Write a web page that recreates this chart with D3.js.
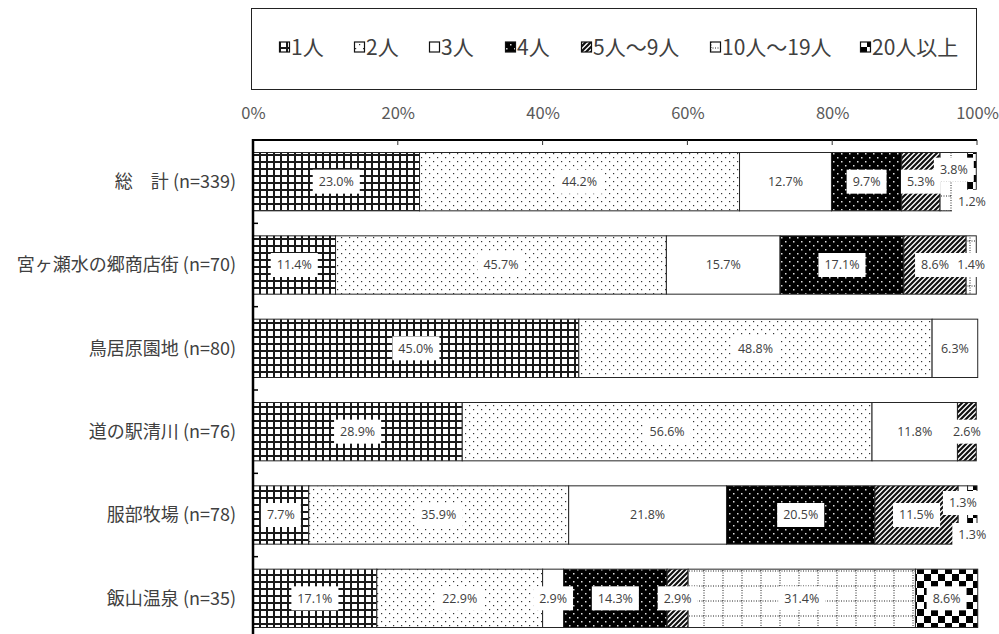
<!DOCTYPE html>
<html><head><meta charset="utf-8">
<script src="https://cdn.jsdelivr.net/npm/d3@7"></script>
<style>body{margin:0;background:#fff}svg{display:block}</style>
</head><body>
<svg id="chart" width="999" height="634"></svg>
<script>
const categories = ["総　計 (n=339)", "宮ヶ瀬水の郷商店街 (n=70)", "鳥居原園地 (n=80)", "道の駅清川 (n=76)", "服部牧場 (n=78)", "飯山温泉 (n=35)"];
const seriesNames = ["1人", "2人", "3人", "4人", "5人～9人", "10人～19人", "20人以上"];
const v1 = [23.0, 11.4, 45.0, 28.9, 7.7, 17.1];
const v2 = [44.2, 45.7, 48.8, 56.6, 35.9, 22.9];
const v3 = [12.7, 15.7, 6.3, 11.8, 21.8, 2.9];
const v4 = [9.7, 17.1, 0, 0, 20.5, 14.3];
const v5 = [5.3, 8.6, 0, 2.6, 11.5, 2.9];
const v6 = [3.8, 1.4, 0, 0, 1.3, 31.4];
const v7 = [1.2, 0, 0, 0, 1.3, 8.6];
const xTicks = [0, 20, 40, 60, 80, 100];

const seriesValues = [v1, v2, v3, v4, v5, v6, v7];
const rows = categories.map((c, i) => {
  const r = {cat: c};
  seriesNames.forEach((s, j) => r[s] = seriesValues[j][i]);
  return r;
});

const svg = d3.select("#chart");
const defs = svg.append("defs");
const font = "'Noto Sans CJK JP','Noto Sans',sans-serif";

// patterns
function pat(id, w, h, draw) {
  const p = defs.append("pattern").attr("id", id).attr("patternUnits", "userSpaceOnUse")
    .attr("width", w).attr("height", h);
  draw(p);
}
pat("p0", 7, 7, p => {
  p.append("rect").attr("width", 7).attr("height", 7).attr("fill", "#fff");
  p.append("rect").attr("x", 0).attr("y", 0).attr("width", 2).attr("height", 7).attr("fill", "#1a1a1a");
  p.append("rect").attr("x", 0).attr("y", 0).attr("width", 7).attr("height", 2).attr("fill", "#1a1a1a");
});
pat("p1", 8, 8, p => {
  p.append("rect").attr("width", 8).attr("height", 8).attr("fill", "#fff");
  p.append("rect").attr("x", 1).attr("y", 1).attr("width", 1.2).attr("height", 1.2).attr("fill", "#333");
  p.append("rect").attr("x", 5).attr("y", 5).attr("width", 1.2).attr("height", 1.2).attr("fill", "#333");
});
pat("p2", 8, 8, p => {
  p.append("rect").attr("width", 8).attr("height", 8).attr("fill", "#fff");
});
pat("p3", 8, 8, p => {
  p.append("rect").attr("width", 8).attr("height", 8).attr("fill", "#000");
  p.append("rect").attr("x", 1).attr("y", 1).attr("width", 1.5).attr("height", 1.5).attr("fill", "#ddd");
  p.append("rect").attr("x", 5).attr("y", 5).attr("width", 1.5).attr("height", 1.5).attr("fill", "#ddd");
});
pat("p4", 5, 5, p => {
  p.append("rect").attr("width", 5).attr("height", 5).attr("fill", "#fff");
  p.append("path").attr("d", "M-1,6 L6,-1 M-1,1 L1,-1 M4,6 L6,4").attr("stroke", "#111").attr("stroke-width", 2.2);
});
pat("p5", 19, 15, p => {
  p.append("rect").attr("width", 19).attr("height", 15).attr("fill", "#fff");
  p.append("path").attr("d", "M1,0 V15 M0,1 H19").attr("stroke", "#222").attr("stroke-width", 1).attr("stroke-dasharray", "1,1.5");
});
pat("p6", 14, 14, p => {
  p.append("rect").attr("width", 14).attr("height", 14).attr("fill", "#fff");
  p.append("rect").attr("x", 0).attr("y", 0).attr("width", 7).attr("height", 7).attr("fill", "#000");
  p.append("rect").attr("x", 7).attr("y", 7).attr("width", 7).attr("height", 7).attr("fill", "#000");
});

const x = d3.scaleLinear().domain([0, 100]).range([253, 977]);
const y = d3.scaleBand().domain(categories).range([140, 640]).paddingInner(0.3).paddingOuter(0.15);

// legend box
svg.append("rect").attr("x", 251.5).attr("y", 8.5).attr("width", 725).attr("height", 81)
  .attr("fill", "#fff").attr("stroke", "#222").attr("stroke-width", 1);
const legendX = [279, 354, 429, 505, 581, 710, 860];
const leg = svg.append("g");
seriesNames.forEach((s, j) => {
  const g = leg.append("g").attr("transform", `translate(${legendX[j]},47)`);
  g.append("rect").attr("x", 0.5).attr("y", -5).attr("width", 10).attr("height", 10)
    .attr("fill", `url(#p${j})`).attr("stroke", "#111").attr("stroke-width", 1.2);
  g.append("text").attr("x", 12).attr("y", 0).attr("dy", "0.36em").attr("font-family", font)
    .attr("font-size", 21).attr("fill", "#404040").text(s);
});

// stacks
const stack = d3.stack().keys(seriesNames)(rows);
const gBars = svg.append("g");
stack.forEach((layer, j) => {
  gBars.selectAll(null).data(layer.filter(d => d[1] - d[0] > 0)).join("rect")
    .attr("x", d => x(d[0])).attr("y", d => y(d.data.cat))
    .attr("width", d => x(d[1]) - x(d[0])).attr("height", y.bandwidth())
    .attr("fill", `url(#p${j})`).attr("stroke", "#262626").attr("stroke-width", 1);
});

// axes
const xAxis = svg.append("g").attr("transform", "translate(0,140)")
  .call(d3.axisTop(x).tickValues(xTicks).tickSize(0).tickFormat(d => d + "%"));
xAxis.select(".domain").remove();
xAxis.selectAll("text").attr("y", -21).attr("dy", 0).attr("font-family", font).attr("font-size", 16.5).attr("fill", "#595959");
svg.append("line").attr("x1", 253).attr("x2", 977).attr("y1", 140).attr("y2", 140).attr("stroke", "#000").attr("stroke-width", 2);
xTicks.forEach(t => svg.append("line").attr("x1", x(t)).attr("x2", x(t)).attr("y1", 140).attr("y2", 145).attr("stroke", "#333"));

svg.append("line").attr("x1", 253).attr("x2", 253).attr("y1", 139).attr("y2", 640).attr("stroke", "#000").attr("stroke-width", 2.5);
const step = y.step();
categories.forEach((c, i) => {
  if (i > 0) {
    const yy = y(c) - step * y.paddingInner() / 2;
    svg.append("line").attr("x1", 253).attr("x2", 258).attr("y1", yy).attr("y2", yy).attr("stroke", "#000").attr("stroke-width", 1.5);
  }
  svg.append("text").attr("x", 236).attr("y", y(c) + y.bandwidth() / 2).attr("dy", "0.36em")
    .attr("text-anchor", "end").attr("font-family", font).attr("font-size", 18).attr("fill", "#404040").text(c);
});

// labels
const gLab = svg.append("g");
stack.forEach((layer, j) => {
  layer.forEach((d, i) => {
    const v = d[1] - d[0];
    if (v <= 0) return;
    const row = rows[i];
    let dyOff = 0;
    const crowded = row[seriesNames[5]] > 0 && row[seriesNames[5]] < 5 && row[seriesNames[6]] > 0 && row[seriesNames[6]] < 5;
    if (crowded && j === 5) dyOff = -12;
    if (crowded && j === 6) dyOff = 20;
    const cx = (x(d[0]) + x(d[1])) / 2;
    const cy = y(row.cat) + y.bandwidth() / 2 + dyOff;
    const g = gLab.append("g").attr("transform", `translate(${cx},${cy})`);
    const t = g.append("text").attr("text-anchor", "middle").attr("dy", "0.35em")
      .attr("font-family", "'Open Sans','Noto Sans',sans-serif").attr("font-size", 12.5).attr("fill", "#404040")
      .text(v.toFixed(1) + "%");
    const bb = t.node().getBBox();
    g.insert("rect", "text").attr("x", bb.x - 6).attr("y", -12).attr("width", bb.width + 12).attr("height", 24).attr("fill", "#fff");
  });
});
</script>
</body></html>
